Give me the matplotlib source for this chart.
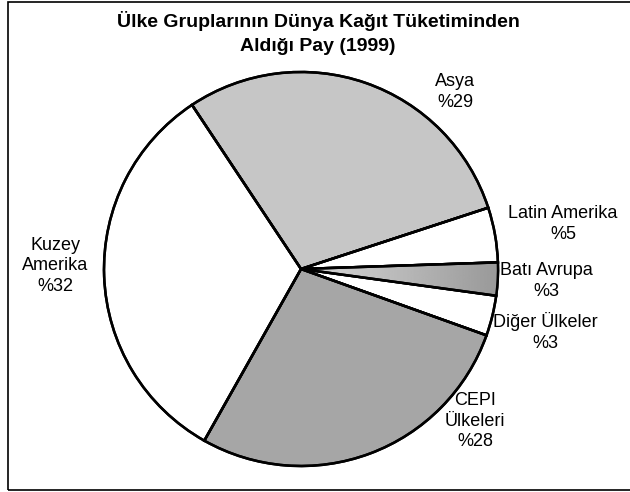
import numpy as np
import matplotlib
matplotlib.use("Agg")
import matplotlib.pyplot as plt
from matplotlib.patches import Rectangle

# data (clockwise, starting at Asya)
regions = ["Asya", "Latin Amerika", "Batı Avrupa", "Diğer Ülkeler", "CEPI\nÜlkeleri", "Kuzey\nAmerika"]
shares = [29.3, 4.5, 2.7, 3.3, 27.7, 32.5]
shown_pct = [29, 5, 3, 3, 28, 32]

fills = ["#c6c6c6", "#ffffff", "#bdbdbd", "#ffffff", "#a6a6a6", "#ffffff"]

# label centres in pixels of the 630x492 picture
label_px = [(455, 92), (563, 224), (546, 281), (545, 332), (475, 421), (55, 266)]

W, H, DPI = 630, 492, 100
cx, cy, r = 301, 269, 197

plt.rcParams['font.family'] = ['Liberation Sans', 'DejaVu Sans']

fig = plt.figure(figsize=(W / DPI, H / DPI), dpi=DPI)
fig.patch.set_facecolor('white')

# chart area frame
fig.add_artist(Rectangle((8 / W, 1 - 490 / H), 1.0, 488 / H, transform=fig.transFigure,
                         fill=False, edgecolor='black', linewidth=1.2))

ax = fig.add_axes([(cx - r) / W, (H - cy - r) / H, 2 * r / W, 2 * r / H])
ax.axis('off')

wedges, _ = ax.pie(shares, colors=fills, startangle=123.6, counterclock=False, radius=1,
                   wedgeprops=dict(edgecolor='black', linewidth=1.8))

# gradient fill for Batı Avrupa
grad = np.linspace(0.85, 0.6, 256).reshape(1, -1)
im = ax.imshow(grad, cmap='gray', vmin=0, vmax=1, extent=[0.0, 1.0, -0.2, 0.2],
               aspect='auto', zorder=wedges[2].get_zorder() + 0.1)
im.set_clip_path(wedges[2])
wedges[2].set_facecolor('none')
ax.pie(shares, colors=['none'] * 6, startangle=123.6, counterclock=False, radius=1,
       wedgeprops=dict(edgecolor='black', linewidth=1.8, zorder=5))
ax.set_xlim(-1, 1)
ax.set_ylim(-1, 1)

for name, pct, (px, py) in zip(regions, shown_pct, label_px):
    fig.text(px / W, 1 - py / H, f"{name}\n%{pct}", ha='center', va='center',
             fontsize=13, linespacing=1.25)

fig.text(318 / W, 1 - 33 / H, "Ülke Gruplarının Dünya Kağıt Tüketiminden\nAldığı Pay (1999)",
         ha='center', va='center', fontsize=14, fontweight='bold', linespacing=1.5)

fig.savefig("out.png", dpi=DPI)
